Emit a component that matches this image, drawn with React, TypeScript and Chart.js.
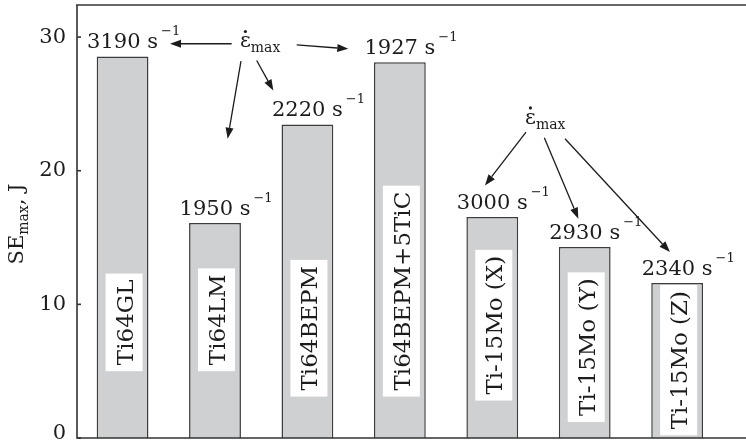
import React, { useEffect, useRef } from 'react';
import { Chart, registerables } from 'chart.js';
Chart.register(...registerables);

// ---- data ----
const materials = ['Ti64GL', 'Ti64LM', 'Ti64BEPM', 'Ti64BEPM+5TiC', 'Ti-15Mo (X)', 'Ti-15Mo (Y)', 'Ti-15Mo (Z)'];
const seMax = [28.55, 16.08, 23.46, 28.12, 16.53, 14.29, 11.59];
const strainRates = ['3190', '1950', '2220', '1927', '3000', '2930', '2340'];
const yTicks = [0, 10, 20, 30];

// ---- annotation layout (data units: x = bar index, y = SE) ----
const labelBase = [5.0, 5.0, 3.1, 3.1, 2.8, 1.2, 0.2];
const epsAnchors = [
  [2.27, 29.22],
  [5.354, 23.5],
];
const arrows = [
  [2.18, 29.5, 1.513, 29.5],
  [2.884, 29.42, 3.442, 29.12],
  [2.451, 28.25, 2.631, 26.0],
  [2.281, 28.2, 2.137, 22.39],
  [5.365, 22.89, 4.921, 18.9],
  [5.563, 22.47, 5.931, 16.41],
  [5.787, 22.39, 6.922, 13.91],
];

const F = "'DejaVu Serif', serif";
const INK = '#1c1c1c';

const decor = {
  id: 'decor',
  afterDatasetsDraw(chart: any) {
    const { ctx, chartArea: a, scales } = chart;
    const x = scales.x;
    const y = scales.y;
    ctx.save();

    // frame
    ctx.strokeStyle = '#666';
    ctx.lineWidth = 2;
    ctx.beginPath();
    ctx.moveTo(a.left - 1, a.top);
    ctx.lineTo(a.right, a.top);
    ctx.stroke();
    ctx.strokeStyle = '#333';
    ctx.lineWidth = 1.6;
    ctx.beginPath();
    ctx.moveTo(a.left, a.top);
    ctx.lineTo(a.left, a.bottom);
    ctx.lineTo(a.right, a.bottom);
    ctx.stroke();

    // y ticks (inward) and labels
    ctx.font = `21px ${F}`;
    ctx.fillStyle = INK;
    ctx.textAlign = 'right';
    ctx.textBaseline = 'middle';
    yTicks.forEach((t) => {
      const py = y.getPixelForValue(t);
      ctx.beginPath();
      ctx.moveTo(a.left, py);
      ctx.lineTo(a.left + 4, py);
      ctx.stroke();
      ctx.fillText(String(t), a.left - 11, py - (t === 0 ? 4 : 0));
    });

    // y title: SE_max, J
    ctx.save();
    ctx.translate(23, 224);
    ctx.rotate(-Math.PI / 2);
    ctx.textAlign = 'left';
    ctx.textBaseline = 'alphabetic';
    ctx.font = `21px ${F}`;
    const w1 = ctx.measureText('SE').width;
    const w3 = ctx.measureText(', J').width;
    ctx.font = `14px ${F}`;
    const w2 = ctx.measureText('max').width;
    const s0 = -(w1 + w2 + w3) / 2;
    ctx.font = `21px ${F}`;
    ctx.fillText('SE', s0, 0);
    ctx.fillText(', J', s0 + w1 + w2, 0);
    ctx.font = `14px ${F}`;
    ctx.fillText('max', s0 + w1, 5);
    ctx.restore();

    // bar labels
    materials.forEach((m, i) => {
      const cx = x.getPixelForValue(i + 1);
      // value labels on top
      ctx.textAlign = 'left';
      ctx.textBaseline = 'alphabetic';
      ctx.fillStyle = INK;
      ctx.font = `21px ${F}`;
      const main = `${strainRates[i]} s`;
      const w = ctx.measureText(main).width;
      const by = y.getPixelForValue(seMax[i]) - 8;
      ctx.fillText(main, cx - w / 2, by);
      ctx.font = `13px ${F}`;
      ctx.fillText('\u22121', cx + w / 2 + 3, by - 13);

      // rotated name in white box
      ctx.font = `23px ${F}`;
      const tw = ctx.measureText(m).width;
      const boxLen = tw + 12;
      const boxW = 37;
      const bottom = y.getPixelForValue(labelBase[i]);
      const bx = cx + 1.5;
      ctx.fillStyle = '#ffffff';
      ctx.fillRect(bx - boxW / 2, bottom - boxLen, boxW, boxLen);
      ctx.save();
      ctx.translate(bx + 8.5, bottom - 6);
      ctx.rotate(-Math.PI / 2);
      ctx.fillStyle = INK;
      ctx.fillText(m, 0, 0);
      ctx.restore();
    });

    // epsilon-dot max labels
    epsAnchors.forEach(([ex, ey]) => {
      const px = x.getPixelForValue(ex);
      const py = y.getPixelForValue(ey);
      ctx.fillStyle = INK;
      ctx.textAlign = 'left';
      ctx.textBaseline = 'alphabetic';
      ctx.font = `21px ${F}`;
      ctx.fillText('\u03B5', px, py);
      const we = ctx.measureText('\u03B5').width;
      // dot accent above epsilon
      ctx.beginPath();
      ctx.arc(px + we / 2, py - 16, 1.6, 0, Math.PI * 2);
      ctx.fill();
      ctx.font = `14px ${F}`;
      ctx.fillText('max', px + we, py + 5);
    });

    // arrows
    ctx.strokeStyle = INK;
    ctx.fillStyle = INK;
    ctx.lineWidth = 1.3;
    arrows.forEach(([x0, y0, x1, y1]) => {
      const p0x = x.getPixelForValue(x0);
      const p0y = y.getPixelForValue(y0);
      const p1x = x.getPixelForValue(x1);
      const p1y = y.getPixelForValue(y1);
      const ang = Math.atan2(p1y - p0y, p1x - p0x);
      const L = 11;
      const H = 4;
      const bx2 = p1x - L * Math.cos(ang);
      const by2 = p1y - L * Math.sin(ang);
      ctx.beginPath();
      ctx.moveTo(p0x, p0y);
      ctx.lineTo(bx2, by2);
      ctx.stroke();
      ctx.beginPath();
      ctx.moveTo(p1x, p1y);
      ctx.lineTo(bx2 + H * Math.sin(ang), by2 - H * Math.cos(ang));
      ctx.lineTo(bx2 - H * Math.sin(ang), by2 + H * Math.cos(ang));
      ctx.closePath();
      ctx.fill();
    });

    ctx.restore();
  },
};

export default function App() {
  const ref = useRef<HTMLCanvasElement | null>(null);
  useEffect(() => {
    document.body.style.margin = '0';
    const canvas = ref.current;
    if (!canvas) return;
    const chart = new Chart(canvas, {
      type: 'bar',
      data: {
        datasets: [
          {
            data: seMax.map((v, i) => ({ x: i + 1, y: v })),
            backgroundColor: '#cfd0d2',
            borderColor: '#3c3c3c',
            borderWidth: 1.5,
            barPercentage: 0.752,
            categoryPercentage: 1,
          },
        ],
      },
      options: {
        animation: false,
        responsive: false,
        devicePixelRatio: 1,
        layout: { padding: { left: 77, top: 5, right: 0, bottom: 4 } },
        plugins: { legend: { display: false }, tooltip: { enabled: false } },
        scales: {
          x: {
            type: 'linear',
            min: 0.507,
            max: 7.745,
            offset: false,
            display: false,
            grid: { display: false },
          },
          y: {
            min: 0,
            max: 32.4,
            display: false,
            ticks: { stepSize: 10, includeBounds: false },
            grid: { display: false },
          },
        },
      },
      plugins: [decor],
    });
    return () => chart.destroy();
  }, []);
  return (
    <div style={{ width: 746, height: 442, background: '#fff' }}>
      <canvas ref={ref} width={746} height={442} style={{ display: 'block' }} />
    </div>
  );
}
